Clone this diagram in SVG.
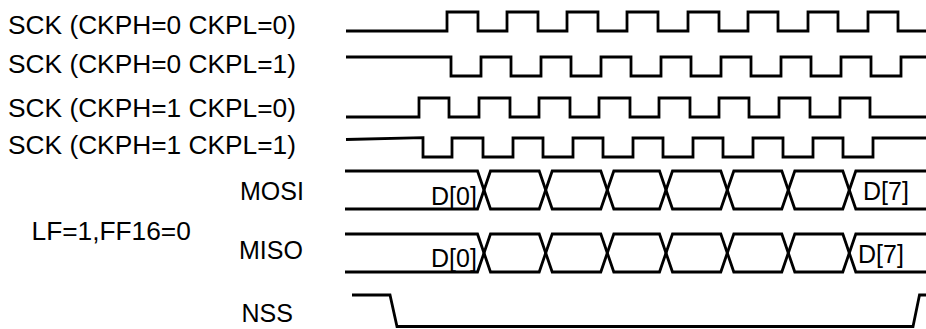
<svg xmlns="http://www.w3.org/2000/svg" width="926" height="329" viewBox="0 0 926 329">
<style>
.w{fill:none;stroke:#000;stroke-width:2.8;stroke-linejoin:miter;stroke-linecap:butt}
.t{font-family:"Liberation Sans",Arial,sans-serif;fill:#000}
.l{font-size:26.3px}
.s{font-size:25px}
</style>
<rect width="926" height="329" fill="#fff"/>
<g id="labels">
<text class="t l" x="8" y="34">SCK (CKPH=0 CKPL=0)</text>
<text class="t l" x="8" y="72.5">SCK (CKPH=0 CKPL=1)</text>
<text class="t l" x="8" y="117">SCK (CKPH=1 CKPL=0)</text>
<text class="t l" x="8" y="154">SCK (CKPH=1 CKPL=1)</text>
<text class="t l" x="31.5" y="240">LF=1,FF16=0</text>
<text class="t s" x="240" y="200">MOSI</text>
<text class="t s" x="239" y="259">MISO</text>
<text class="t s" x="241.5" y="321.5">NSS</text>
</g>
<g id="sck00">
<path class="w" d="M346,31 H447 V12 H478 V31 H507 V12 H538 V31 H567 V12 H598 V31 H627 V12 H658 V31 H688 V12 H719 V31 H748 V12 H778 V31 H808 V12 H838 V31 H868 V12 H898 V31 H926"/>
</g>
<g id="sck01">
<path class="w" d="M346,57 H451 V76 H481 V57 H511 V76 H541 V57 H571 V76 H601 V57 H631 V76 H661 V57 H691 V76 H721 V57 H751 V76 H781 V57 H811 V76 H841 V57 H871 V76 H901 V57 H926"/>
</g>
<g id="sck10">
<path class="w" d="M346,117 H419 V98 H449 V117 H479 V98 H510 V117 H539 V98 H570 V117 H599 V98 H630 V117 H659 V98 H690 V117 H719 V98 H749 V117 H779 V98 H810 V117 H840 V98 H870 V117 H926"/>
</g>
<g id="sck11">
<path class="w" d="M346,139.5 L423,137.7 V157 H452 V138 H483 V157 H513 V138 H543 V157 H573 V138 H603 V157 H633 V138 H663 V157 H693 V138 H723 V157 H753 V138 H783 V157 H813 V138 H843 V157 H873 V138 H926"/>
</g>
<g id="mosi">
<path class="w" d="M345,171 H477.5 L490.5,209 H539.2 L552.2,171 H600.8 L613.8,209 H659.5 L672.5,171 H720.8 L733.8,209 H781.8 L794.8,171 H842.8 L855.8,209 H926"/>
<path class="w" d="M345,209 H477.5 L490.5,171 H539.2 L552.2,209 H600.8 L613.8,171 H659.5 L672.5,209 H720.8 L733.8,171 H781.8 L794.8,209 H842.8 L855.8,171 H926"/>
<text class="t s" x="431" y="205">D[0]</text>
<text class="t s" x="863" y="200">D[7]</text>
</g>
<g id="miso">
<path class="w" d="M345,234 H477.5 L490.5,272 H539.2 L552.2,234 H600.8 L613.8,272 H659.5 L672.5,234 H720.8 L733.8,272 H781.8 L794.8,234 H842.8 L855.8,272 H926"/>
<path class="w" d="M345,272 H477.5 L490.5,234 H539.2 L552.2,272 H600.8 L613.8,234 H659.5 L672.5,272 H720.8 L733.8,234 H781.8 L794.8,272 H842.8 L855.8,234 H926"/>
<text class="t s" x="431" y="266.5">D[0]</text>
<text class="t s" x="858" y="263">D[7]</text>
</g>
<g id="nss">
<path class="w" d="M352,295 H390 L397,326.5 H913 L919.5,295 H926"/>
</g>
</svg>
